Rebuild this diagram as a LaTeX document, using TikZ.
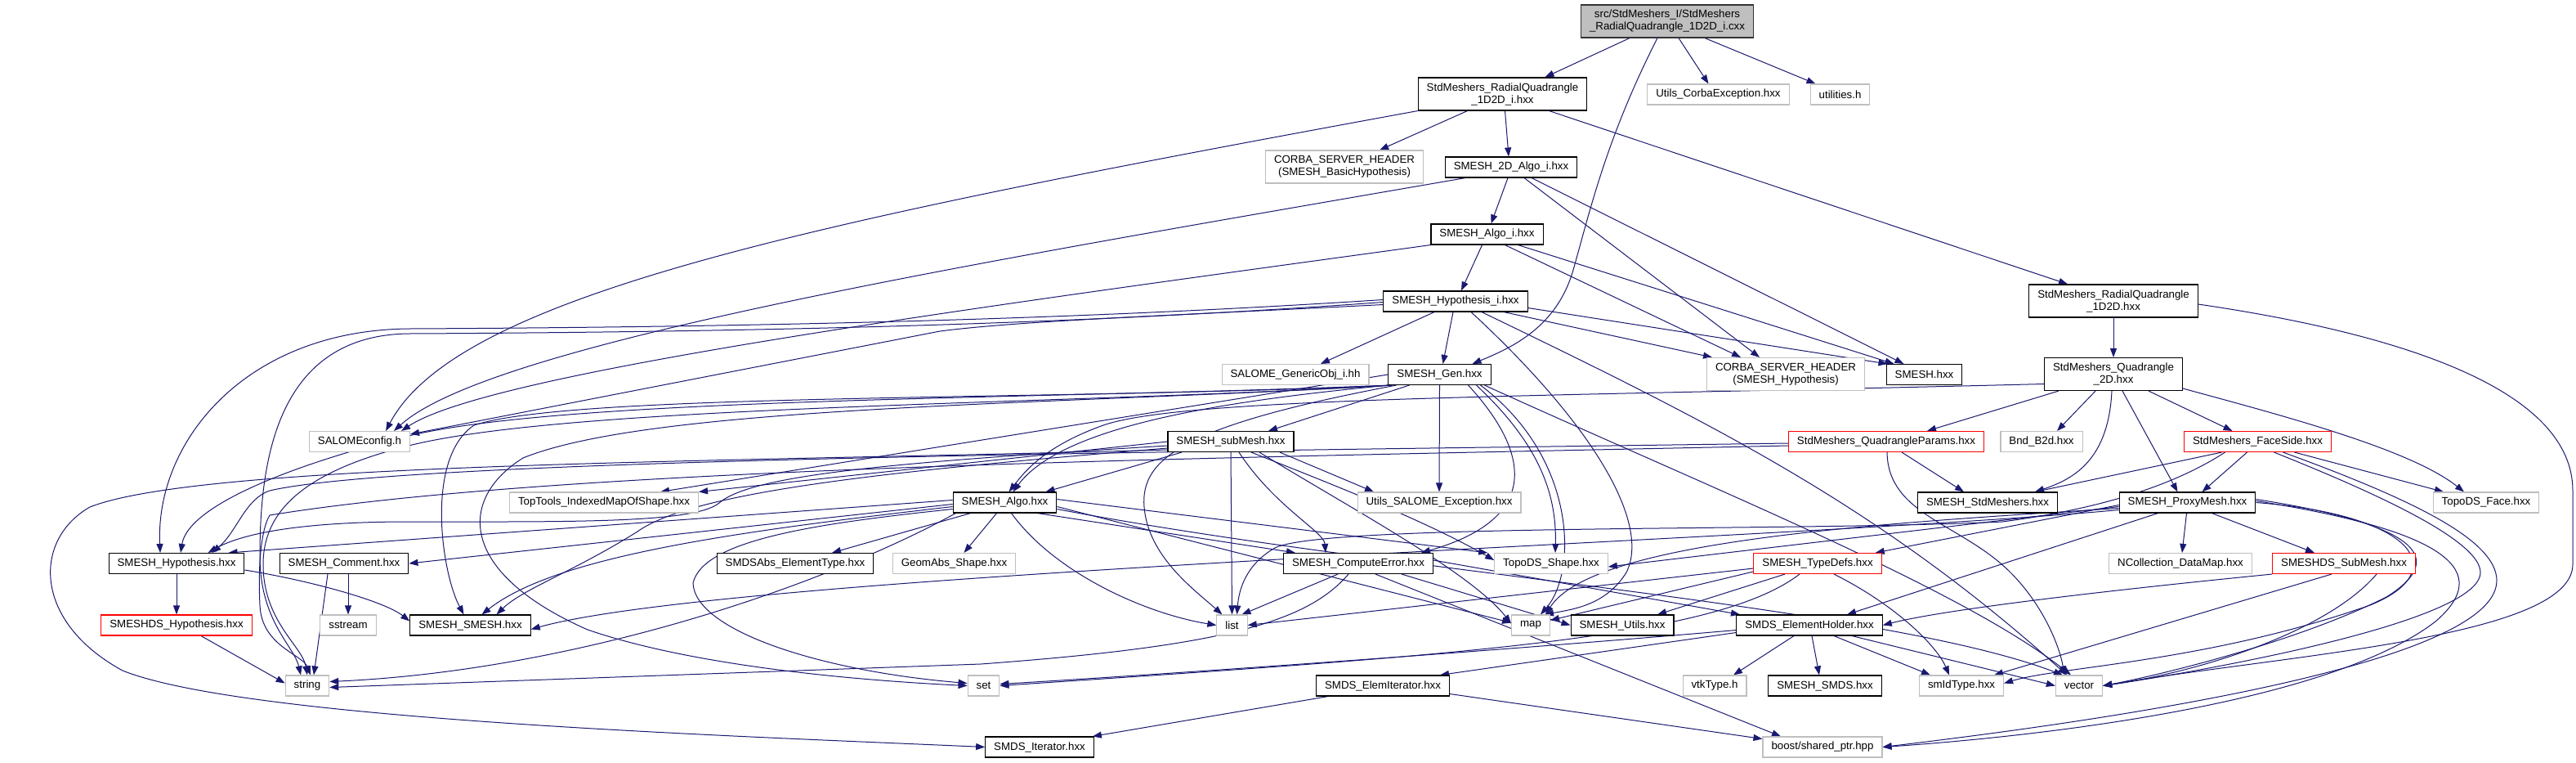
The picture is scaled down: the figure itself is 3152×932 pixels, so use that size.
\documentclass[tikz,border=0pt]{standalone}
\usepackage{fontspec}
\setmainfont{Liberation Sans}
\usetikzlibrary{arrows.meta,calc}
\definecolor{edgeblue}{HTML}{191970}
\definecolor{gborder}{HTML}{BFBFBF}
\definecolor{rootfill}{HTML}{BFBFBF}
\pgfdeclarelayer{bg}
\pgfsetlayers{bg,main}
\tikzset{
  box/.style={draw, line width=1.1pt, fill=white, font=\fontsize{13.3pt}{15pt}\selectfont,
    inner xsep=10.5pt, inner ysep=0pt, minimum height=25pt, align=center},
  bk/.style={box, draw=black},
  gr/.style={box, draw=gborder},
  rd/.style={box, draw=red},
  root/.style={box, draw=black!80, fill=rootfill},
  two/.style={minimum height=40pt},
  ed/.style={draw=edgeblue, line width=1pt, -{Triangle[length=11pt,width=8pt]}}
}
\begin{document}
\begin{tikzpicture}[x=1pt,y=-1pt]
\useasboundingbox (0,0) rectangle (3152,932);
% nodes
\node[root,two] (top) at (2040,26) {src/StdMeshers\_I/StdMeshers\\\_RadialQuadrangle\_1D2D\_i.cxx};
\node[bk,two] (radi) at (1838.5,115) {StdMeshers\_RadialQuadrangle\\\_1D2D\_i.hxx};
\node[gr] (ucorba) at (2102.5,115.5) {Utils\_CorbaException.hxx};
\node[gr] (util) at (2251.5,115.5) {utilities.h};
\node[gr,two] (corbabasic) at (1645,204) {CORBA\_SERVER\_HEADER\\(SMESH\_BasicHypothesis)};
\node[bk] (algo2d) at (1849,204.5) {SMESH\_2D\_Algo\_i.hxx};
\node[bk] (algoi) at (1819.5,286.5) {SMESH\_Algo\_i.hxx};
\node[bk] (hypi) at (1781,368.5) {SMESH\_Hypothesis\_i.hxx};
\node[bk,two] (radh) at (2586,368) {StdMeshers\_RadialQuadrangle\\\_1D2D.hxx};
\node[gr] (salomeconfig) at (440,540) {SALOMEconfig.h};
\node[gr] (genobj) at (1585,458) {SALOME\_GenericObj\_i.hh};
\node[bk] (gen) at (1761.5,458) {SMESH\_Gen.hxx};
\node[gr,two] (corbahyp) at (2185,457.5) {CORBA\_SERVER\_HEADER\\(SMESH\_Hypothesis)};
\node[bk] (smesh) at (2354.5,458) {SMESH.hxx};
\node[bk,two] (quad2d) at (2586,457.5) {StdMeshers\_Quadrangle\\\_2D.hxx};
\node[bk] (submesh) at (1506,540) {SMESH\_subMesh.hxx};
\node[rd] (qparams) at (2308,540) {StdMeshers\_QuadrangleParams.hxx};
\node[gr] (bnd) at (2498,540) {Bnd\_B2d.hxx};
\node[rd] (faceside) at (2762.5,540) {StdMeshers\_FaceSide.hxx};
\node[gr] (toptools) at (739,614.5) {TopTools\_IndexedMapOfShape.hxx};
\node[bk] (algo) at (1229.5,614.5) {SMESH\_Algo.hxx};
\node[gr] (usalome) at (1761,614.5) {Utils\_SALOME\_Exception.hxx};
\node[bk] (stdm) at (2432,614.5) {SMESH\_StdMeshers.hxx};
\node[bk] (proxy) at (2676.5,614.5) {SMESH\_ProxyMesh.hxx};
\node[gr] (topoface) at (3042,614.5) {TopoDS\_Face.hxx};
\node[bk] (hyp) at (216,689) {SMESH\_Hypothesis.hxx};
\node[bk] (comment) at (421,689) {SMESH\_Comment.hxx};
\node[bk] (smdsabs) at (973,689) {SMDSAbs\_ElementType.hxx};
\node[gr] (geomabs) at (1167.5,689) {GeomAbs\_Shape.hxx};
\node[bk] (cerr) at (1662,689) {SMESH\_ComputeError.hxx};
\node[gr] (toposhape) at (1898,689) {TopoDS\_Shape.hxx};
\node[rd] (typedefs) at (2224,689) {SMESH\_TypeDefs.hxx};
\node[gr] (ncoll) at (2668,689) {NCollection\_DataMap.hxx};
\node[rd] (dssub) at (2868,689) {SMESHDS\_SubMesh.hxx};
\node[rd] (dshyp) at (216,764.5) {SMESHDS\_Hypothesis.hxx};
\node[gr] (sstream) at (426,764.5) {sstream};
\node[bk] (smeshsmesh) at (575.5,764.5) {SMESH\_SMESH.hxx};
\node[gr] (list) at (1507.5,764.5) {list};
\node[gr] (map) at (1873,764.5) {map};
\node[bk] (utils) at (1985,764.5) {SMESH\_Utils.hxx};
\node[bk] (elemholder) at (2214,764.5) {SMDS\_ElementHolder.hxx};
\node[gr] (string) at (376,838.5) {string};
\node[gr] (set) at (1203.5,838.5) {set};
\node[bk] (elemiter) at (1692,838.5) {SMDS\_ElemIterator.hxx};
\node[gr] (vtk) at (2098,838.5) {vtkType.h};
\node[bk] (smds) at (2233,838.5) {SMESH\_SMDS.hxx};
\node[gr] (smid) at (2400,838.5) {smIdType.hxx};
\node[gr] (vector) at (2544,838.5) {vector};
\node[bk] (iter) at (1272,913.5) {SMDS\_Iterator.hxx};
\node[gr] (boost) at (2230,913.5) {boost/shared\_ptr.hpp};

\begin{pgfonlayer}{bg}
% top
\draw[ed] ([xshift=-46pt]top.south) -- ([xshift=52pt]radi.north);
\draw[ed] ([xshift=-12pt]top.south) .. controls (1965,170) and (1945,260) .. (1925,330) .. controls (1905,400) and (1850,425) .. ([xshift=40pt]gen.north);
\draw[ed] ([xshift=14pt]top.south) -- ([xshift=-12pt]ucorba.north);
\draw[ed] ([xshift=46pt]top.south) -- ([xshift=-30pt]util.north);
% radi
\draw[ed] ([xshift=-43pt]radi.south) -- ([xshift=43pt]corbabasic.north);
\draw[ed] ([xshift=3pt]radi.south) -- ([xshift=-3pt]algo2d.north);
\draw[ed] ([xshift=57pt]radi.south) -- ([xshift=-56pt]radh.north);
\draw[ed] (radi.south west) .. controls (1000,270) and (560,360) .. ([xshift=-30pt]salomeconfig.north east);
% algo2d
\draw[ed] ([xshift=-4pt]algo2d.south) -- ([xshift=5pt]algoi.north);
\draw[ed] ([xshift=16pt]algo2d.south) -- ([xshift=-32pt]corbahyp.north);
\draw[ed] ([xshift=25pt]algo2d.south) -- ([xshift=-25pt]smesh.north);
\draw[ed] ([xshift=-56pt]algo2d.south) .. controls (1200,320) and (600,420) .. ([xshift=-20pt]salomeconfig.north east);
% algoi
\draw[ed] ([xshift=-6pt]algoi.south) -- ([xshift=7pt]hypi.north);
\draw[ed] ([xshift=22pt]algoi.south) -- ([xshift=-55pt]corbahyp.north);
\draw[ed] ([xshift=38pt]algoi.south) -- ([xshift=-37pt]smesh.north);
\draw[ed] (algoi.south west) .. controls (1200,375) and (600,455) .. ([xshift=-11pt]salomeconfig.north east);
% hypi
\draw[ed] ([xshift=-26pt]hypi.south) -- ([xshift=31pt]genobj.north);
\draw[ed] ([xshift=-3pt]hypi.south) -- ([xshift=4pt]gen.north);
\draw[ed] ([xshift=59pt]hypi.south) -- ([xshift=-90pt]corbahyp.north);
\draw[ed] ([yshift=-8pt]hypi.east) -- ([xshift=-45pt]smesh.north);
\draw[ed] ([yshift=-4pt]hypi.west) .. controls (1450,385) and (1250,392) .. (1150,405) -- ([yshift=-4pt]salomeconfig.north east);
\draw[ed] ([yshift=2pt]hypi.west) .. controls (1300,392) and (900,400) .. (500,402) .. controls (300,404) and (190,540) .. ([xshift=-20pt]hyp.north);
\draw[ed] ([yshift=-1pt]hypi.west) .. controls (1300,398) and (900,406) .. (500,408) .. controls (340,410) and (318,560) .. (318,680) .. controls (318,760) and (360,790) .. ([xshift=-8pt]string.north);
\draw[ed] ([xshift=19pt]hypi.south) .. controls (1950,520) and (2020,640) .. (1990,700) .. controls (1965,740) and (1925,745) .. ([xshift=17pt]map.north);
\draw[ed] ([xshift=32pt]hypi.south) .. controls (2100,520) and (2300,620) .. ([xshift=-15pt]vector.north);
% radh
\draw[ed] (radh.south) -- (quad2d.north);
\draw[ed] ([yshift=-4pt]radh.east) .. controls (2950,410) and (3148,480) .. (3148,600) -- (3148,690) .. controls (3148,780) and (2800,800) .. (vector.east);
% quad2d
\draw[ed] ([xshift=-67pt]quad2d.south) -- ([xshift=50pt]qparams.north);
\draw[ed] ([xshift=-22pt]quad2d.south) -- ([xshift=19pt]bnd.north);
\draw[ed] ([xshift=-2pt]quad2d.south) .. controls (2580,560) and (2540,585) .. ([xshift=58pt]stdm.north);
\draw[ed] ([xshift=11pt]quad2d.south) -- ([xshift=-12pt]proxy.north);
\draw[ed] ([xshift=43pt]quad2d.south) -- ([xshift=-31pt]faceside.north);
\draw[ed] ([yshift=3pt]quad2d.south east) .. controls (2800,510) and (2950,550) .. ([xshift=-27pt]topoface.north);
\draw[ed] ([yshift=-12pt]quad2d.west) .. controls (1900,485) and (1450,485) .. (1350,520) .. controls (1280,545) and (1255,575) .. ([xshift=5pt]algo.north);
% qparams
\draw[ed] ([xshift=19pt]qparams.south) -- ([xshift=-29pt]stdm.north);
\draw[ed] ([xshift=1pt]qparams.south) .. controls (2310,630) and (2400,640) .. (2460,700) .. controls (2500,740) and (2520,790) .. ([xshift=-18pt]vector.north);
\draw[ed] ([yshift=-2pt]qparams.west) .. controls (1500,552) and (500,560) .. (330,600) .. controls (300,610) and (290,650) .. ([xshift=-40pt]hyp.north east);
\draw[ed] ([yshift=-5pt]qparams.west) .. controls (1500,560) and (700,570) .. (330,630) .. controls (318,650) and (316,700) .. (318,740) .. controls (320,790) and (370,800) .. ([xshift=4pt]string.north);
% faceside
\draw[ed] ([xshift=-44pt]faceside.south) -- ([xshift=58pt]stdm.north);
\draw[ed] ([xshift=-13pt]faceside.south) -- ([xshift=18pt]proxy.north);
\draw[ed] ([xshift=45pt]faceside.south) -- ([xshift=-52pt]topoface.north);
\draw[ed] ([xshift=20pt]faceside.south) .. controls (2900,600) and (3035,660) .. (3035,700) .. controls (3035,760) and (2700,820) .. (vector.east);
\draw[ed] ([xshift=31pt]faceside.south) .. controls (2950,610) and (3055,660) .. (3055,710) .. controls (3055,820) and (2500,890) .. (boost.east);
\draw[ed] ([xshift=-40pt]faceside.south) .. controls (2650,600) and (2550,625) .. (2450,638) .. controls (2200,650) and (1620,640) .. (1560,670) .. controls (1525,690) and (1516,720) .. ([xshift=6pt]list.north);
% proxy
\draw[ed] ([xshift=-1pt]proxy.south) -- ([xshift=2pt]ncoll.north);
\draw[ed] ([xshift=30pt]proxy.south) -- ([xshift=-36pt]dssub.north);
\draw[ed] ([yshift=-3pt]proxy.west) -- ([xshift=-8pt]typedefs.north east);
\draw[ed] ([xshift=-36pt]proxy.south) -- ([xshift=46pt]elemholder.north);
\draw[ed] ([yshift=-5pt]proxy.west) -- ([yshift=-4pt]toposhape.east);
\draw[ed] ([yshift=-7pt]proxy.west) .. controls (2300,640) and (1950,660) .. ([xshift=18pt]map.north);
\draw[ed] ([yshift=4pt]proxy.east) .. controls (2950,640) and (3000,680) .. (2920,730) .. controls (2800,790) and (2620,830) .. (vector.east);
\draw[ed] ([yshift=2pt]proxy.east) .. controls (3000,650) and (3050,700) .. (2980,760) .. controls (2850,860) and (2500,900) .. (boost.east);
\draw[ed] ([yshift=0pt]proxy.east) .. controls (2960,630) and (3000,700) .. (2900,740) .. controls (2700,810) and (2520,815) .. ([yshift=3pt]smid.east);
\draw[ed] ([yshift=-9pt]proxy.west) .. controls (2200,660) and (900,700) .. ([yshift=-5pt]smeshsmesh.east);
% dssub
\draw[ed] (dssub.south west) .. controls (2700,710) and (2400,740) .. (elemholder.east);
\draw[ed] ([xshift=-15pt]dssub.south) -- ([xshift=40pt]smid.north);
\draw[ed] ([xshift=40pt]dssub.south) .. controls (2850,770) and (2700,820) .. (vector.east);
% typedefs
\draw[ed] ([yshift=-6pt]typedefs.west) -- (list.east);
\draw[ed] ([yshift=-10pt]typedefs.west) -- ([yshift=6pt]map.east);
\draw[ed] ([xshift=-40pt]typedefs.south) -- ([xshift=43pt]utils.north);
\draw[ed] ([xshift=-22pt]typedefs.south) .. controls (2100,780) and (1800,800) .. (set.east);
\draw[ed] ([xshift=20pt]typedefs.south) .. controls (2320,740) and (2370,790) .. ([xshift=-15pt]smid.north);
% elemholder
\draw[ed] ([xshift=-19pt]elemholder.south) -- ([xshift=23pt]vtk.north);
\draw[ed] ([xshift=3pt]elemholder.south) -- ([xshift=-7pt]smds.north);
\draw[ed] ([xshift=30pt]elemholder.south) -- ([xshift=-38pt]smid.north);
\draw[ed] ([xshift=52pt]elemholder.south) -- (vector.west);
\draw[ed] ([yshift=-6pt]elemholder.west) .. controls (1900,790) and (1500,820) .. ([yshift=2pt]set.east);
\draw[ed] ([yshift=-9pt]elemholder.west) -- ([xshift=70pt]elemiter.north);
% elemiter
\draw[ed] ([xshift=-67pt]elemiter.south) -- ([xshift=-2pt]iter.north east);
\draw[ed] ([yshift=-10pt]elemiter.east) -- ([yshift=10pt]boost.west);
% cerr
\draw[ed] ([xshift=-25pt]cerr.south) -- ([xshift=12pt]list.north);
\draw[ed] ([xshift=-12pt]cerr.south) .. controls (1600,760) and (1500,790) .. (1200,812) -- ([yshift=-2pt]string.east);
\draw[ed] ([xshift=21pt]cerr.south) -- ([xshift=-51pt]boost.north);
\draw[ed] ([xshift=53pt]cerr.south) -- (utils.west);
\draw[ed] ([yshift=4pt]cerr.east) -- ([xshift=-85pt]elemholder.north);
% algo
\draw[ed] ([xshift=-42pt]algo.south) -- ([xshift=45pt]smdsabs.north);
\draw[ed] ([xshift=-10pt]algo.south) -- ([xshift=12pt]geomabs.north);
\draw[ed] ([xshift=8pt]algo.south) .. controls (1290,700) and (1400,750) .. (list.west);
\draw[ed] ([xshift=40pt]algo.south) -- ([xshift=-77pt]cerr.north);
\draw[ed] ([yshift=4pt]algo.east) -- ([xshift=-8pt]toposhape.north west);
\draw[ed] ([yshift=-5pt]algo.east) -- ([yshift=3pt]map.west);
\draw[ed] ([yshift=-8pt]algo.east) .. controls (1700,700) and (2300,740) .. ([xshift=-20pt]vector.north);
\draw[ed] ([yshift=3pt]algo.west) -- ([xshift=-20pt]hyp.north east);
\draw[ed] ([yshift=-2pt]algo.west) -- (comment.east);
\draw[ed] ([yshift=-5pt]algo.west) .. controls (900,650) and (680,680) .. ([xshift=14pt]smeshsmesh.north);
\draw[ed] ([yshift=-8pt]algo.west) .. controls (1000,640) and (860,660) .. (848,713) .. controls (850,770) and (1000,820) .. ([yshift=3pt]set.west);
\draw[ed] ([xshift=-60pt]algo.south) .. controls (1000,720) and (700,820) .. ([yshift=5pt]string.east);
% gen
\draw[ed] ([xshift=-37pt]gen.south) -- ([xshift=46pt]submesh.north);
\draw[ed] (gen.south) -- (usalome.north);
\draw[ed] ([xshift=-62pt]gen.south) .. controls (1500,490) and (1300,520) .. ([xshift=10pt]algo.north);
\draw[ed] ([xshift=-53pt]gen.south) .. controls (1450,520) and (1395,560) .. (1400,620) .. controls (1405,680) and (1460,720) .. ([xshift=-12pt]list.north);
\draw[ed] ([xshift=35pt]gen.south) .. controls (1860,540) and (1900,630) .. ([xshift=77pt]cerr.north);
\draw[ed] ([xshift=45pt]gen.south) .. controls (1880,540) and (1905,600) .. ([xshift=5pt]toposhape.north);
\draw[ed] ([xshift=50pt]gen.south) .. controls (1930,560) and (1930,700) .. ([xshift=12pt]map.north);
\draw[ed] ([xshift=55pt]gen.south) .. controls (2100,600) and (2400,720) .. ([xshift=-10pt]vector.north);
\draw[ed] (gen.west) -- ([xshift=69pt]toptools.north);
\draw[ed] ([xshift=-60pt]gen.south) .. controls (1300,490) and (700,480) .. (580,520) .. controls (520,560) and (540,700) .. ([xshift=-8pt]smeshsmesh.north);
\draw[ed] ([xshift=-61pt]gen.south) .. controls (1300,488) and (700,485) .. (500,533) .. controls (350,570) and (230,620) .. ([xshift=5pt]hyp.north);
\draw[ed] ([xshift=-59pt]gen.south) .. controls (1300,495) and (700,495) .. (500,545) .. controls (380,575) and (322,620) .. (322,690) .. controls (322,760) and (370,790) .. ([xshift=0pt]string.north);
\draw[ed] ([xshift=-58pt]gen.south) .. controls (1300,495) and (800,495) .. (640,560) .. controls (560,610) and (560,700) .. (719,770) .. controls (850,815) and (1050,832) .. (set.west);
% submesh
\draw[ed] ([xshift=-60pt]submesh.south) -- ([xshift=50pt]algo.north);
\draw[ed] ([xshift=60pt]submesh.south) -- ([xshift=-80pt]usalome.north);
\draw[ed] (submesh.south) -- (list.north);
\draw[ed] ([xshift=10pt]submesh.south) .. controls (1560,620) and (1620,650) .. ([xshift=-40pt]cerr.north);
\draw[ed] ([xshift=25pt]submesh.south) .. controls (1650,600) and (1750,640) .. ([yshift=4pt]toposhape.west);
\draw[ed] ([xshift=35pt]submesh.south) .. controls (1650,620) and (1800,700) .. ([yshift=2pt]map.west);
\draw[ed] (submesh.west) -- (toptools.north east);
\draw[ed] ([yshift=-5pt]submesh.west) .. controls (1100,565) and (920,580) .. (880,615) .. controls (850,640) and (700,638) .. (500,638) .. controls (380,638) and (300,650) .. ([xshift=-45pt]hyp.north east);
\draw[ed] ([yshift=-8pt]submesh.west) .. controls (1100,575) and (850,600) .. (780,650) .. controls (700,700) and (640,720) .. ([xshift=32pt]smeshsmesh.north);
\draw[ed] ([yshift=-10pt]submesh.west) .. controls (900,565) and (250,565) .. (110,620) .. controls (40,660) and (40,760) .. (150,820) .. controls (300,880) and (900,900) .. (iter.west);
% left
\draw[ed] (hyp.south) -- (dshyp.north);
\draw[ed] ([yshift=-8pt]hyp.east) .. controls (380,710) and (470,735) .. ([yshift=5pt]smeshsmesh.west);
\draw[ed] ([xshift=-20pt]comment.south) -- ([xshift=8pt]string.north);
\draw[ed] ([xshift=5pt]comment.south) -- (sstream.north);
\draw[ed] ([xshift=30pt]dshyp.south) -- ([yshift=3pt]string.west);
\end{pgfonlayer}
\end{tikzpicture}
\end{document}
